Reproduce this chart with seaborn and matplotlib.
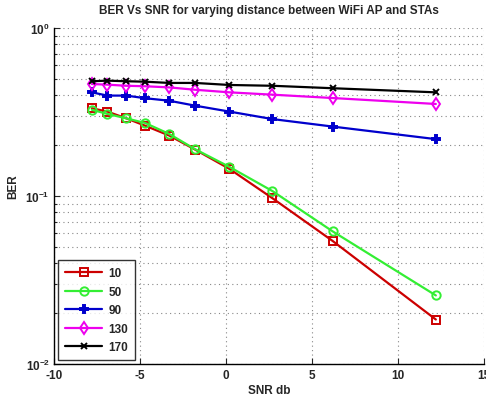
import matplotlib
matplotlib.use("Agg")
import matplotlib.pyplot as plt
import seaborn as sns
import numpy as np
import pandas as pd

snr = [-7.8, -6.9, -5.8, -4.7, -3.3, -1.8, 0.2, 2.7, 6.2, 12.2]
ber_10 = [0.333, 0.318, 0.290, 0.262, 0.229, 0.189, 0.145, 0.097, 0.054, 0.0184]
ber_50 = [0.326, 0.308, 0.290, 0.272, 0.234, 0.190, 0.149, 0.107, 0.0616, 0.0256]
ber_90 = [0.414, 0.396, 0.396, 0.382, 0.369, 0.345, 0.318, 0.287, 0.259, 0.218]
ber_130 = [0.464, 0.460, 0.453, 0.450, 0.443, 0.429, 0.414, 0.401, 0.383, 0.353]
ber_170 = [0.482, 0.486, 0.482, 0.479, 0.471, 0.471, 0.458, 0.453, 0.438, 0.414]
labels = ["10", "50", "90", "130", "170"]
series = [ber_10, ber_50, ber_90, ber_130, ber_170]
colors = ["#cc0000", "#33ee33", "#0000cc", "#ee00ee", "#000000"]
markers = ["s", "o", "P", "d", "x"]

sns.set_style("white")
plt.rcParams["font.family"] = ["Liberation Sans", "DejaVu Sans"]
plt.rcParams["mathtext.fontset"] = "custom"
plt.rcParams["mathtext.bf"] = "Liberation Sans:bold"
plt.rcParams["mathtext.rm"] = "Liberation Sans:bold"

fig = plt.figure(figsize=(4.86, 4.02), dpi=100)
ax = fig.add_axes([54/486, 1-365/402, 430/486, 336/402])

for lab, vals, c, m in zip(labels, series, colors, markers):
    df = pd.DataFrame({"snr": snr, "ber": vals})
    filled = m in ("P", "x")
    sns.lineplot(data=df, x="snr", y="ber", ax=ax, color=c, marker=m, label=lab,
                 linewidth=1.6, markersize=6 if m != "x" else 5,
                 markerfacecolor=c if filled else "none", markeredgecolor=c,
                 markeredgewidth=1.4, sort=False)

ax.set_yscale("log")
ax.set_xlim(-10, 15)
ax.set_ylim(1e-2, 1)
ax.set_xticks([-10, -5, 0, 5, 10, 15])
ax.set_xticklabels(["-10", "-5", "0", "5", "10", "15"], fontweight="bold", fontsize=8.5)
ax.set_yticks([1e-2, 1e-1, 1])
ax.set_yticklabels([r"$\mathbf{10^{-2}}$", r"$\mathbf{10^{-1}}$", r"$\mathbf{10^{0}}$"], fontsize=8.5)
ax.grid(True, which="major", axis="both", linestyle=(0, (1, 3)), color="#888888", linewidth=0.8)
ax.grid(True, which="minor", axis="y", linestyle=(0, (1, 3)), color="#888888", linewidth=0.8)
ax.tick_params(which="both", direction="in", length=4, left=True, bottom=True, width=0.8)
ax.tick_params(axis="y", which="major", pad=3)
ax.tick_params(which="minor", length=2.5)
for s in ["top", "right"]:
    ax.spines[s].set_visible(False)
for s in ["left", "bottom"]:
    ax.spines[s].set_color("black")
    ax.spines[s].set_linewidth(1.0)

ax.set_title("BER Vs SNR for varying distance between WiFi AP and STAs", fontweight="bold", fontsize=8.5, pad=11)
ax.set_xlabel("SNR db", fontweight="bold", fontsize=8.5, labelpad=2)
ax.set_ylabel("BER", fontweight="bold", fontsize=8.5)
ax.yaxis.set_label_coords(-0.08, 0.53)

leg = ax.legend(loc="lower left", frameon=True, fancybox=False, edgecolor="black",
                prop={"weight": "bold", "size": 8.5}, handlelength=3.2, borderaxespad=0.3,
                labelspacing=0.55, handletextpad=0.5, borderpad=0.6)
leg.get_frame().set_linewidth(1.0)

fig.savefig("out.png", dpi=100)
